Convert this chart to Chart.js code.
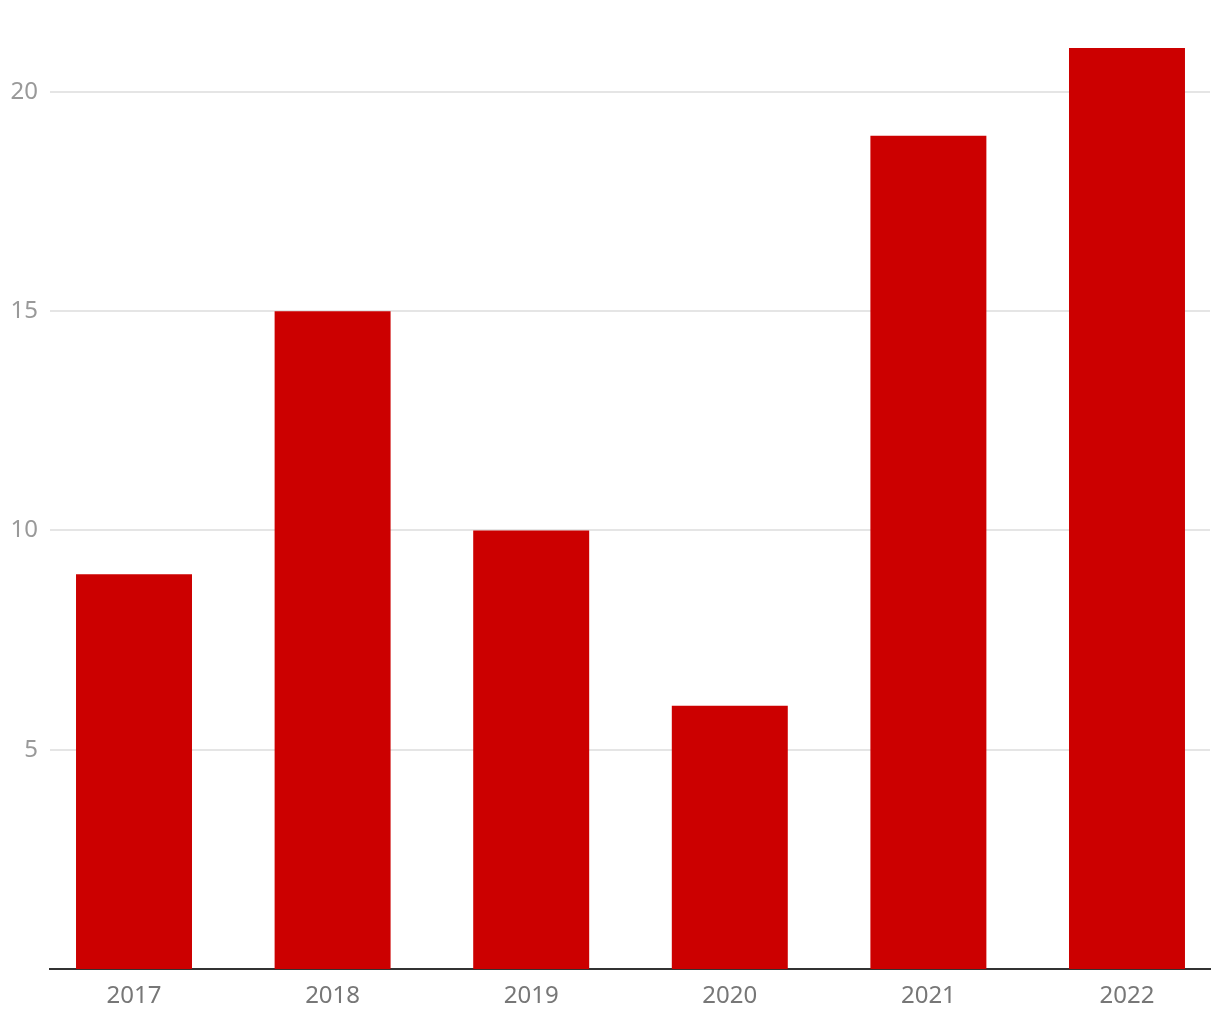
<!DOCTYPE html>
<html>
<head>
<meta charset="utf-8">
<script src="https://cdn.jsdelivr.net/npm/chart.js@4/dist/chart.umd.min.js"></script>
<style>
  html, body { margin: 0; padding: 0; background: #fff; }
  #wrap { width: 1220px; height: 1020px; }
</style>
</head>
<body>
<div id="wrap"><canvas id="chart" width="1220" height="1020"></canvas></div>
<script>
// chart data
const years = ['2017', '2018', '2019', '2020', '2021', '2022'];
const counts = [9, 15, 10, 6, 19, 21];
const yTicks = [5, 10, 15, 20];

const points = years.map((y, i) => ({ x: i, y: counts[i] }));

new Chart(document.getElementById('chart'), {
  type: 'bar',
  data: {
    datasets: [{
      data: points,
      backgroundColor: '#cc0000',
      borderWidth: 0,
      categoryPercentage: 1,
      barPercentage: 0.584
    }]
  },
  options: {
    responsive: false,
    animation: false,
    layout: { padding: { top: 48, right: 10, bottom: 0, left: 0 } },
    plugins: { legend: { display: false }, tooltip: { enabled: false } },
    scales: {
      x: {
        type: 'linear',
        bounds: 'data',
        offset: false,
        min: -0.423,
        max: 5.418,
        afterDataLimits: (scale) => { scale.min = -0.423; scale.max = 5.418; },
        afterBuildTicks: (scale) => { scale.ticks = years.map((_, i) => ({ value: i })); },
        afterFit: (scale) => { scale.height = 51; },
        grid: { display: false, drawTicks: false },
        border: { display: true, color: '#333333', width: 2 },
        ticks: {
          color: '#777777',
          padding: 13,
          font: { family: 'Noto Sans', size: 24 },
          callback: (v) => years[v]
        }
      },
      y: {
        min: 0,
        max: 21,
        afterBuildTicks: (scale) => { scale.ticks = yTicks.map(v => ({ value: v })); },
        afterFit: (scale) => { scale.width = 50; },
        grid: { color: '#e5e5e5', lineWidth: 2, drawTicks: false },
        border: { display: false },
        ticks: {
          color: '#999999',
          padding: 12,
          font: { family: 'Noto Sans', size: 24 }
        }
      }
    }
  }
});
</script>
</body>
</html>
